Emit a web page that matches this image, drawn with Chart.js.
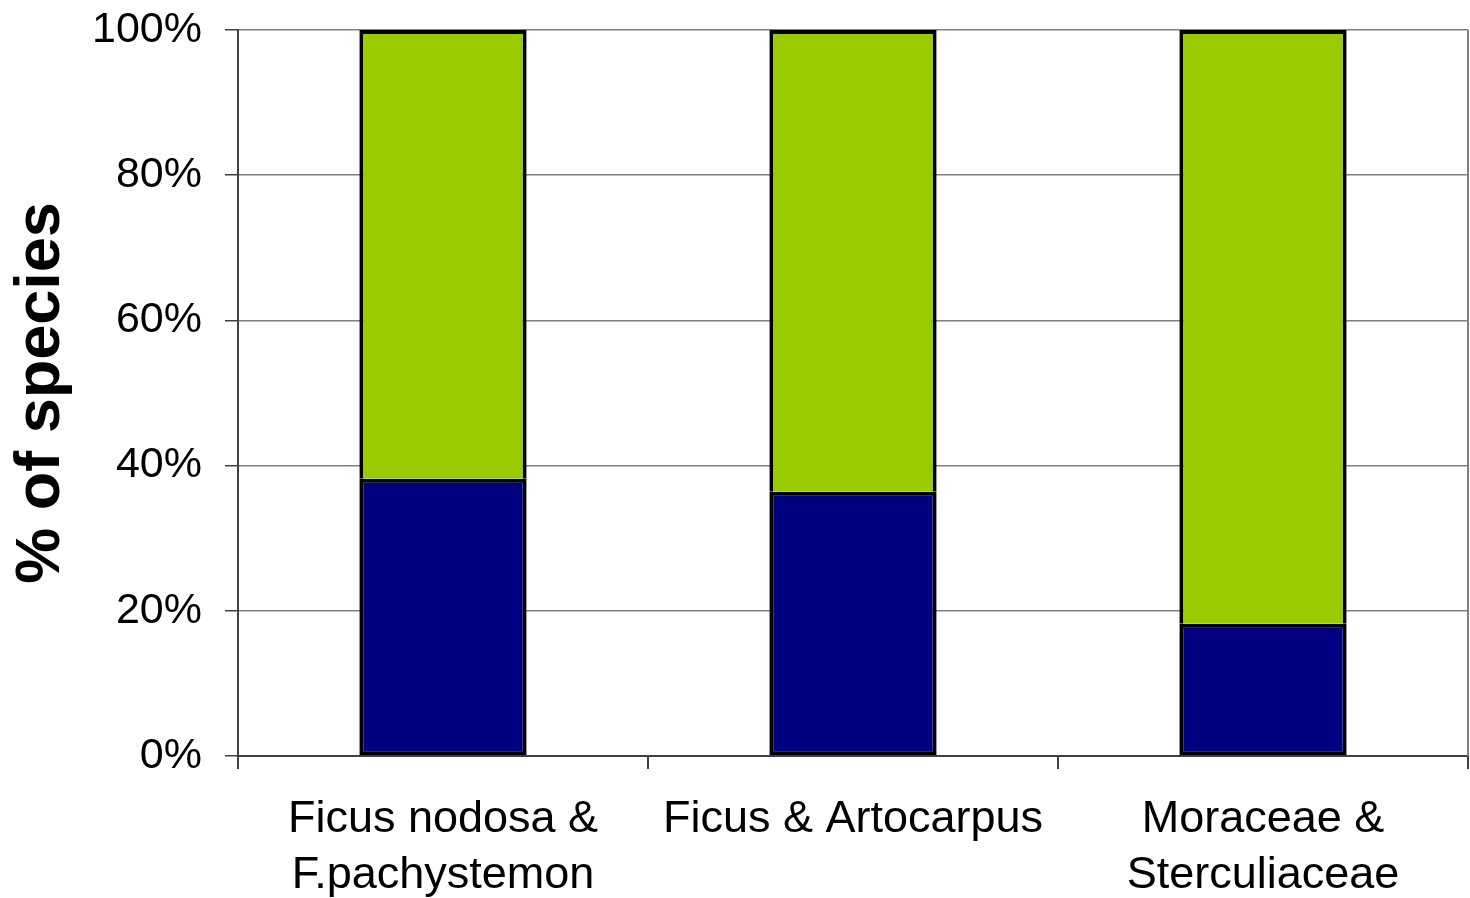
<!DOCTYPE html>
<html>
<head>
<meta charset="utf-8">
<title>% of species</title>
<script src="https://cdn.jsdelivr.net/npm/chart.js@4.4.1/dist/chart.umd.min.js"></script>
<style>
    html, body { margin: 0; padding: 0; background: #fff; }
    #wrap { width: 1470px; height: 898px; }
</style>
</head>
<body>
<div id="wrap"><canvas id="especiesGrafico"></canvas></div>
<script>
// Categorias e valores (% de espécies)
const categorias = [
    ['Ficus nodosa &', 'F.pachystemon'],
    'Ficus & Artocarpus',
    ['Moraceae &', 'Sterculiaceae']
];
const serieInferior = [38.2, 36.4, 18.2];
const serieSuperior = [61.8, 63.6, 81.8];
const ticksY = [0, 20, 40, 60, 80, 100];

// Linha cinza à direita da área do gráfico
const bordaDireita = {
    id: 'bordaDireita',
    beforeDatasetsDraw(chart) {
        const { ctx, chartArea } = chart;
        ctx.save();
        ctx.strokeStyle = '#808080';
        ctx.lineWidth = 2;
        ctx.beginPath();
        ctx.moveTo(chartArea.right, chartArea.top);
        ctx.lineTo(chartArea.right, chartArea.bottom);
        ctx.stroke();
        ctx.restore();
    }
};

const ctx = document.getElementById('especiesGrafico').getContext('2d');
let especiesGrafico = new Chart(ctx, {
    type: 'bar',
    data: {
        labels: categorias,
        datasets: [
            {
                data: serieInferior,
                backgroundColor: '#000080',
                borderColor: '#000000',
                borderWidth: 4,
                borderSkipped: false,
                barPercentage: 1,
                categoryPercentage: 0.408
            },
            {
                data: serieSuperior,
                backgroundColor: '#99CC00',
                borderColor: '#000000',
                borderWidth: 4,
                borderSkipped: 'start', // a divisória fica só com a borda da série de baixo
                barPercentage: 1,
                categoryPercentage: 0.408
            }
        ]
    },
    options: {
        responsive: true,
        maintainAspectRatio: false,
        animation: false,
        layout: { padding: { top: 30, right: 2, left: 0, bottom: 0 } },
        scales: {
            x: {
                stacked: true,
                offset: true,
                grid: {
                    offset: true,
                    drawOnChartArea: false,
                    tickLength: 13,
                    tickColor: '#404040',
                    lineWidth: 2
                },
                border: { color: '#404040', width: 2 },
                ticks: {
                    color: '#000',
                    padding: 22,
                    maxRotation: 0,
                    autoSkip: false,
                    font: { family: 'Liberation Sans, Arial', size: 45, lineHeight: 1.25 }
                },
                afterFit: function(scale) {
                    scale.height = 142;
                }
            },
            y: {
                stacked: true,
                min: 0,
                max: 100,
                afterBuildTicks: function(scale) {
                    scale.ticks = ticksY.map(v => ({ value: v }));
                },
                grid: {
                    color: '#808080',
                    lineWidth: 1.5,
                    tickLength: 13,
                    tickColor: '#404040'
                },
                border: { color: '#404040', width: 2 },
                ticks: {
                    color: '#000',
                    padding: 23,
                    font: { family: 'Liberation Sans, Arial', size: 43 },
                    callback: function(value) {
                        return value + '%';
                    }
                },
                title: {
                    display: true,
                    text: '% of species',
                    color: '#000',
                    padding: { top: 4, bottom: 0 },
                    font: { family: 'Liberation Sans, Arial', size: 63, weight: 'bold' }
                },
                afterFit: function(scale) {
                    scale.width = 238;
                    // a folga do topo vem só do layout
                    scale.paddingTop = 0;
                    scale.paddingBottom = 0;
                }
            }
        },
        plugins: {
            legend: { display: false },
            tooltip: { enabled: false }
        }
    },
    plugins: [bordaDireita]
});
</script>
</body>
</html>
